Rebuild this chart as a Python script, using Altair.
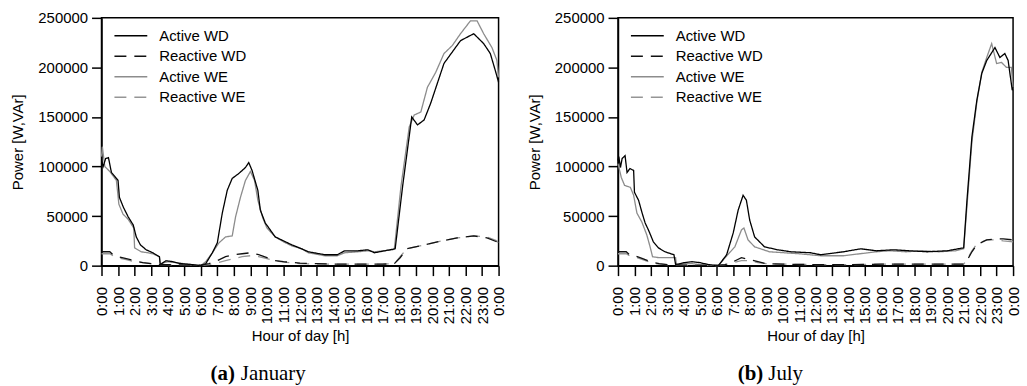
import json
import altair as alt
import pandas as pd

# ---------------- data (values in W / VAr) ----------------
series_names = ["Active WD", "Reactive WD", "Active WE", "Reactive WE"]
series_colors = ["#000000", "#111111", "#8c8c8c", "#959595"]
series_dashes = [[1, 0], [12, 8], [1, 0], [12, 8]]

hour_ticks = list(range(25))
hour_labels = ["0:00", "1:00", "2:00", "3:00", "4:00", "5:00", "6:00", "7:00", "8:00",
               "9:00", "10:00", "11:00", "12:00", "13:00", "14:00", "15:00", "16:00",
               "17:00", "18:00", "19:00", "20:00", "21:00", "22:00", "23:00", "0:00"]
power_ticks = [0, 50000, 100000, 150000, 200000, 250000]

# January
jan_awd_h = [0, 0.1, 0.25, 0.42, 0.6, 0.9, 1.0, 1.08, 1.32, 1.62, 1.92, 2.1, 2.35, 2.7, 3.1,
             3.5, 3.55, 3.9, 4.3, 4.8, 5.5, 6.0, 6.3, 6.7, 7.0, 7.3, 7.6, 7.9, 8.3, 8.7, 8.9,
             9.1, 9.45, 9.6, 9.9, 10.5, 11.0, 11.5, 12.1, 12.5, 13.5, 14.25, 14.7, 15.5, 16.1,
             16.5, 17.75, 18.2, 18.65, 18.75, 19.1, 19.5, 19.9, 20.7, 21.7, 22.5, 23.1, 23.5,
             23.8, 24]
jan_awd_v = [106, 100, 108, 109, 94, 88, 86, 69, 59, 49, 41, 29, 21, 16, 13,
             9, 1, 5, 4, 2, 1, 0, 2, 13, 23, 53, 76, 88, 93, 99, 104,
             96, 76, 56, 43, 29, 25, 21, 17, 14, 11, 11, 15, 15, 16,
             13, 17, 80, 137, 150, 142, 147, 164, 204, 227, 234, 224, 214,
             197, 185]

jan_awe_h = [0, 0.05, 0.2, 0.5, 0.9, 1.05, 1.3, 1.6, 1.95, 2.0, 2.4, 2.8, 3.1, 3.5, 3.55,
             4.0, 4.5, 5.0, 5.5, 6.0, 6.3, 6.7, 7.1, 7.5, 7.9, 8.1, 8.4, 8.7, 9.0, 9.25,
             9.45, 9.75, 10.0, 10.5, 11.0, 11.5, 12.1, 12.5, 13.5, 14.25, 14.7, 15.5, 16.1,
             16.5, 17.6, 17.7, 18.1, 18.6, 18.9, 19.3, 19.7, 20.2, 20.7, 21.2, 21.7, 22.3,
             22.7, 23.1, 23.6, 23.9, 24]
jan_awe_v = [110, 120, 100, 95, 86, 62, 52, 47, 38, 18, 14, 13, 12, 9, 2,
             4, 3, 2, 1, 0, 4, 13, 23, 29, 30, 49, 69, 86, 95, 86,
             66, 48, 38, 29, 24, 20, 17, 13, 10, 10, 13, 14, 15,
             14, 16, 17, 80, 140, 152, 155, 180, 195, 214, 222, 234, 247,
             247, 234, 220, 207, 190]

jan_rwd_h = [0, 0.5, 0.7, 1.0, 1.5, 2.0, 2.5, 3.0, 3.5, 4.0, 5.0, 6.0, 6.5, 7.0, 7.5, 8.0,
             8.5, 9.0, 9.5, 10.0, 10.5, 11.0, 12.0, 13.0, 14.0, 15.0, 16.0, 17.0, 17.7,
             18.05, 18.45, 19.25, 20.3, 21.5, 22.5, 23.3, 23.9, 24]
jan_rwd_v = [14, 14, 11, 9, 7, 5, 3, 2, 1, 1, 0.5, 0.5, 2, 5, 9, 11,
             12, 13, 11, 8, 5, 4, 2.5, 2, 1.5, 1.5, 1.5, 1.5, 2,
             8, 17, 20, 24, 28, 30, 28, 24, 22]
jan_rwe_v = [12, 12, 10, 8, 6, 4, 3, 2, 1, 1, 0.5, 0.3, 1, 3, 5, 7,
             9, 10, 9, 7, 5, 3.5, 2, 1.5, 1.5, 1.5, 1.5, 1.5, 2,
             9, 17, 20, 24, 28, 30, 29, 25, 22]

# July
jul_awd_h = [0, 0.05, 0.15, 0.25, 0.43, 0.55, 0.73, 0.95, 1.0, 1.25, 1.45, 1.65, 1.85, 2.15,
             2.45, 2.85, 3.4, 3.5, 4.0, 4.5, 5.0, 5.5, 6.1, 6.6, 7.0, 7.3, 7.6, 7.8, 8.0,
             8.3, 8.9, 9.7, 10.5, 11.7, 12.3, 13.7, 14.75, 15.7, 16.75, 17.7, 18.8, 20.0,
             21.0, 21.2, 21.5, 21.8, 22.1, 22.4, 22.9, 23.2, 23.5, 23.7, 23.95, 24]
jul_awd_v = [106, 110, 99, 108, 111, 94, 98, 96, 74, 66, 54, 43, 36, 24,
             18, 14, 11, 1, 3, 4, 3, 1, 0, 11, 33, 56, 71, 66, 46,
             29, 19, 16, 14, 13, 11, 14, 17, 15, 16, 15, 14, 15,
             18, 66, 130, 167, 194, 207, 220, 210, 214, 207, 177, 180]

jul_awe_h = [0, 0.2, 0.4, 0.75, 0.95, 1.15, 1.45, 1.75, 1.95, 2.1, 2.5, 3.0, 3.5, 3.55, 4.0,
             4.5, 5.0, 5.5, 6.1, 6.5, 7.1, 7.5, 7.65, 7.9, 8.3, 9.2, 11.0, 12.3, 13.7, 15.7,
             16.5, 17.5, 18.5, 19.5, 20.5, 21.0, 21.2, 21.5, 21.8, 22.1, 22.4, 22.7, 23.0,
             23.3, 23.6, 23.9, 24]
jul_awe_v = [103, 89, 81, 79, 71, 53, 44, 31, 19, 9, 8, 8, 8, 1, 2,
             2, 1, 0.5, 0, 8, 19, 36, 38, 26, 19, 14, 12, 10, 10, 14,
             15, 14, 15, 14, 15, 17, 60, 125, 165, 195, 210, 224, 204,
             205, 200, 200, 178]

jul_rwd_h = [0, 0.5, 0.7, 1.0, 1.5, 2.0, 2.5, 3.0, 4.0, 5.0, 6.0, 6.5, 7.0, 7.5, 8.0, 8.5,
             9.0, 10.0, 12.0, 14.0, 16.0, 18.0, 20.0, 21.0, 21.2, 21.5, 21.8, 22.4, 23.0,
             23.4, 24]
jul_rwd_v = [14, 14, 11, 10, 7, 4, 2, 1, 0.5, 0.3, 0.3, 1, 4, 8, 6, 4,
             2, 1.5, 1, 1, 1.5, 1.5, 1.5, 1.5, 5, 14, 21, 26, 27,
             27, 26]
jul_rwe_v = [12, 12, 10, 9, 6, 3, 1.5, 1, 0.5, 0.3, 0.3, 1, 3, 5, 5, 3,
             2, 1.5, 1, 1, 1.5, 1.5, 1.5, 1.5, 6, 15, 22, 26, 26,
             25, 24]

# ---------------- table ----------------
rows = []
def add(month, series, hours, values):
    for h, v in zip(hours, values):
        rows.append({"month": month, "series": series, "hour": h, "power": v * 1000})

add("Jan", "Active WD", jan_awd_h, jan_awd_v)
add("Jan", "Active WE", jan_awe_h, jan_awe_v)
add("Jan", "Reactive WD", jan_rwd_h, jan_rwd_v)
add("Jan", "Reactive WE", jan_rwd_h, jan_rwe_v)
add("Jul", "Active WD", jul_awd_h, jul_awd_v)
add("Jul", "Active WE", jul_awe_h, jul_awe_v)
add("Jul", "Reactive WD", jul_rwd_h, jul_rwd_v)
add("Jul", "Reactive WE", jul_rwd_h, jul_rwe_v)
df = pd.DataFrame(rows)

FONT = "Liberation Sans"
label_expr = json.dumps(hour_labels) + "[datum.value]"


def panel(month, letter, name, letter_x, name_x, width):
    d = df[df.month == month]
    x = alt.X("hour:Q", scale=alt.Scale(domain=[0, 24], nice=False),
              axis=alt.Axis(values=hour_ticks, labelExpr=label_expr, labelAngle=270,
                            labelOverlap=False, labelFlush=False, labelPadding=11,
                            title="Hour of day [h]", titlePadding=5))
    y = alt.Y("power:Q", scale=alt.Scale(domain=[0, 250000], nice=False),
              axis=alt.Axis(values=power_ticks, format="d", labelPadding=4,
                            title="Power [W,VAr]", titlePadding=12))
    leg = alt.Legend(title=None, orient="none", legendX=12, legendY=8, symbolType="stroke",
                     symbolSize=1089, symbolStrokeWidth=1.3, labelFont=FONT,
                     labelFontSize=15, labelColor="black", labelOffset=11, rowPadding=0.6,
                     clipHeight=20, padding=0)
    color = alt.Color("series:N", scale=alt.Scale(domain=series_names, range=series_colors),
                      legend=leg)
    dash = alt.StrokeDash("series:N", scale=alt.Scale(domain=series_names, range=series_dashes),
                          legend=leg)
    base = alt.Chart(d)
    we = base.transform_filter(
        alt.FieldOneOfPredicate(field="series", oneOf=["Active WE", "Reactive WE"])
    ).mark_line(strokeWidth=1.3).encode(x=x, y=y, color=color, strokeDash=dash)
    wd = base.transform_filter(
        alt.FieldOneOfPredicate(field="series", oneOf=["Active WD", "Reactive WD"])
    ).mark_line(strokeWidth=1.3).encode(x=x, y=y, color=color, strokeDash=dash)
    cap1 = alt.Chart(pd.DataFrame({"t": [letter]})).mark_text(
        font="Liberation Serif", fontSize=21, fontWeight="bold", align="right",
        baseline="alphabetic", color="black").encode(
        text="t:N", x=alt.value(letter_x), y=alt.value(364))
    cap2 = alt.Chart(pd.DataFrame({"t": [name]})).mark_text(
        font="Liberation Serif", fontSize=21, align="left",
        baseline="alphabetic", color="black").encode(
        text="t:N", x=alt.value(name_x), y=alt.value(364))
    return alt.layer(we, wd, cap1, cap2).properties(width=width, height=249)


left = panel("Jan", "(a)", "January", 134, 140, 399)
right = panel("Jul", "(b)", "July", 146, 151, 397)

chart = alt.hconcat(left, right, spacing=19).resolve_scale(
    color="independent", strokeDash="independent"
).resolve_legend(
    color="independent", strokeDash="independent"
).properties(
    padding={"left": 10, "top": 9, "right": 5, "bottom": 0}
).configure_view(
    stroke="black", strokeWidth=1.5
).configure_axis(
    labelFont=FONT, titleFont=FONT, labelFontSize=15, titleFontSize=15,
    titleFontWeight="normal", labelColor="black", titleColor="black",
    domainColor="black", tickColor="black", domainWidth=1.5, tickWidth=1.5,
    tickSize=10, grid=False
)

chart.save("out.html", embed_options={"renderer": "svg", "actions": False})
